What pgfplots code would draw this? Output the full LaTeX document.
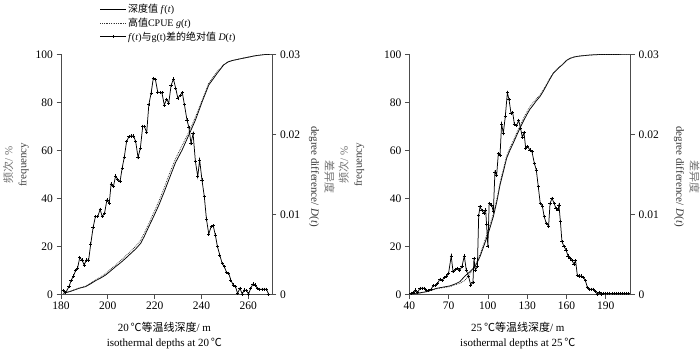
\documentclass[border=0pt]{standalone}
\usepackage{fontspec}
\setmainfont{Liberation Serif}
\newfontfamily\cjk{Noto Sans CJK SC}
\usepackage{pgfplots}
\pgfplotsset{compat=1.18}

\pgfplotsset{
  base/.style={
    scale only axis, height=240pt, ymin=0,
    axis line style={black!70, line width=0.7pt},
    tick style={black!70, line width=0.7pt},
    tick align=outside, major tick length=4.5pt,
    /pgf/number format/assume math mode=true,
    tick label style={font=\fontsize{11.5}{13}\selectfont, black},
  },
  leftax/.style={base, ymax=100, ytick={0,20,...,100},
    axis y line*=left, axis x line*=bottom,
    every axis y label/.style={at={(axis description cs:#1,0.54)}, rotate=90, anchor=south, inner sep=0pt, align=center, font=\fontsize{11}{14}\selectfont},
    every axis x label/.style={at={(axis description cs:0.49,0)}, anchor=north, inner sep=0pt, yshift=-28pt, align=center, font=\fontsize{11}{14.5}\selectfont},
  },
  rightax/.style={base, ymax=0.03, ytick={0,0.01,0.02,0.03},
    axis y line*=right, axis x line=none, scaled y ticks=false,
    yticklabel style={/pgf/number format/fixed, /pgf/number format/precision=2},
    every axis y label/.style={at={(axis description cs:#1,0.49)}, rotate=-90, anchor=south, inner sep=0pt, align=center, font=\fontsize{11}{14}\selectfont},
  },
  fline/.style={black, line width=0.75pt},
  gline/.style={black!80, densely dotted, line width=0.75pt},
  dline/.style={black, line width=0.75pt, mark=+, mark size=1.6pt, mark options={line width=0.6pt}},
}

\begin{document}
\begin{tikzpicture}
\useasboundingbox (0,0) rectangle (700pt,348pt);

% ---------------- left panel ----------------
\begin{axis}[leftax=-0.152, at={(61pt,53.7pt)}, anchor=south west, width=211pt,
  xmin=180, xmax=270.1, xtick={180,200,...,260},
  ylabel={{\cjk\color{black!55}频次}{\color{black!55}/ \%}\\{\color{black!75}frequency}},
  xlabel={20\,{\cjk ℃等温线深度}/ m\\isothermal depths at 20\,{\cjk ℃}},
  legend style={at={(axis description cs:0.17,1.222)}, anchor=north west, draw=none, fill=none,
    font=\fontsize{10}{11}\selectfont, row sep=1.2pt, nodes={inner sep=1.2pt}},
  legend cell align=left,
  legend image code/.code={\draw[mark repeat=2,mark phase=2,#1] plot coordinates {(0pt,0pt) (13pt,0pt) (26pt,0pt)};},
]
\addplot[fline] coordinates {
(181,0.4) (184,1.2) (187.7,2.5) (190.5,3.2) (192.5,4.3) (194.8,5.7) (197,6.8) (199,8) (201,9.6) (203.3,11.5)
(205.5,13.2) (207.6,15) (209.8,17) (211.9,18.9) (214,21.2) (215.5,24) (217.5,28.2) (219.6,32.5) (221.8,37.2)
(224,42.5) (226,47.6) (228.9,54.9) (231.7,60.1) (234.6,66.4) (237.4,72.6) (240.3,80.3) (243.1,87.2)
(246.7,92.1) (249.5,95.6) (251.3,96.8) (253.1,97.4) (257.4,98.3) (263,99.4) (267,99.9) (270,100)};
\addlegendentry{{\cjk 深度值} \textit{f}(\textit{t})}
\addplot[gline] coordinates {
(181,0.4) (184,1.3) (187.7,2.6) (190.5,3.4) (192.5,4.6) (194.8,6.0) (197,7.3) (199,8.6) (201,10.3) (203.3,12.2)
(205.5,14.1) (207.6,16) (209.8,18) (211.9,20) (214,22.5) (215.5,25.4) (217.5,29.5) (219.6,34) (221.8,38.8)
(224,44.2) (226,49.5) (228.9,56.5) (231.7,62) (234.6,67.6) (237.4,73.8) (240.3,81) (243.1,88)
(246.7,92.8) (249.5,95.7) (251.3,96.9) (253.1,97.4) (257.4,98.3) (263,99.4) (267,99.9) (270,100)};
\addlegendentry{{\cjk 高值}CPUE \textit{g}(\textit{t})}
\addlegendimage{dline}
\addlegendentry{\textit{f}(\textit{t}){\cjk 与}g(t){\cjk 差的绝对值} \textit{D}(\textit{t})}
\end{axis}

\begin{axis}[rightax=1.175, at={(61pt,53.7pt)}, anchor=south west, width=211pt,
  xmin=180, xmax=270.1,
  ylabel={{\cjk\color{black!55}差异度}\\{\color{black!80}degree difference/ \textit{D}(\textit{t})}},
]
\addplot[dline] coordinates {
(181,0.00045) (182,0.00021) (183.4,0.00096) (184.3,0.00171) (185.3,0.00228) (186.3,0.00300) (187.1,0.00330)
(188,0.00459) (189,0.00429) (189.9,0.00366) (190.8,0.00429) (191.8,0.00429) (192.7,0.00630) (193.7,0.00834)
(194.7,0.00972) (195.7,0.00972) (196.7,0.01062) (197.6,0.00972) (198.6,0.01014) (199.6,0.01179) (200.6,0.01137)
(201.4,0.01380) (202.4,0.01347) (203.3,0.01479) (204.2,0.01437) (205.2,0.01407) (206.1,0.01575) (207,0.01710)
(208,0.01908) (209,0.01971) (210,0.01980) (211,0.01980) (211.9,0.01908) (212.9,0.01710) (213.9,0.01830)
(214.9,0.02100) (215.6,0.02097) (216.6,0.02022) (217.5,0.02370) (218.5,0.02517) (219.4,0.02700) (220.3,0.02688)
(221.3,0.02529) (222.3,0.02520) (223.1,0.02520) (224.1,0.02367) (225.1,0.02439) (226,0.02388) (227,0.02610)
(228,0.02691) (229,0.02574) (229.9,0.02451) (230.9,0.02490) (231.8,0.02520) (232.7,0.02370) (233.8,0.02178)
(234.6,0.02088) (235.5,0.01887) (236.4,0.02010) (237.4,0.01659) (238.4,0.01470) (239.2,0.01680) (240.2,0.01428)
(241.2,0.01221) (242.1,0.00942) (243.1,0.00753) (244.1,0.00846) (245,0.00858) (245.9,0.00741) (246.8,0.00597)
(247.8,0.00492) (248.8,0.00387) (249.7,0.00345) (250.7,0.00276) (251.6,0.00264) (252.5,0.00180) (253.5,0.00117)
(254.5,0.00096) (255.4,0.00012) (256.4,0.00075) (257.4,0.00003) (258.2,0.00054) (259.2,0.00045) (260.1,0.00003)
(261,0.00075) (262,0.00129) (263,0.00117) (263.8,0.00075) (264.8,0.00063) (265.8,0.00063) (266.7,0.00063)
(267.7,0.00063) (268.7,0)};
\end{axis}

% ---------------- right panel ----------------
\begin{axis}[leftax=-0.203, at={(409.3pt,53.7pt)}, anchor=south west, width=221.4pt,
  xmin=40, xmax=209.1, xtick={40,70,...,190},
  ylabel={{\cjk\color{black!55}频次}{\color{black!55}/ \%}\\{\color{black!75}frequency}},
  xlabel={25\,{\cjk ℃等温线深度}/ m\\isothermal depths at 25\,{\cjk ℃}},
]
\addplot[fline] coordinates {
(40.5,0.1) (47,0.5) (53,1.1) (60.9,2.5) (66,3) (71,3.5) (75,4.3) (78.7,5.3) (82.5,7.6) (86.3,9.4) (90.2,11.5)
(94,15.7) (96.5,19.5) (99,23.3) (101.5,27.5) (104.2,32.4) (107,39) (109.3,45.6) (112,51.5) (114.4,56.8)
(117,60.2) (119.4,63) (122,66.2) (124.5,69.2) (127,72) (129.6,74.7) (132,77) (134.7,78.9) (137,80.6)
(139.8,82.4) (142.5,84.8) (144.9,87.2) (147.5,89.8) (150,92.1) (154,94.3) (157.6,96) (160,97.4) (162.7,98.3)
(166,98.9) (170.4,99.3) (178,99.7) (185,99.9) (209,100)};
\addplot[gline] coordinates {
(40.5,0.1) (47,0.4) (53,1.0) (60.9,2.3) (66,2.8) (71,3.2) (75,4.0) (78.7,4.6) (82.5,5.8) (86.3,8.5) (90.2,11.8)
(94,16.5) (96.5,20.5) (99,24.5) (101.5,28.8) (104.2,33.5) (107,40) (109.3,46.5) (112,52.5) (114.4,57.8)
(117,61.2) (119.4,64) (122,67.2) (124.5,70.2) (127,73) (129.6,75.8) (132,78) (134.7,80) (137,81.4)
(139.8,83) (142.5,85.3) (144.9,87.6) (147.5,90.1) (150,92.3) (154,94.5) (157.6,96.1) (160,97.4) (162.7,98.3)
(166,98.9) (170.4,99.3) (178,99.7) (185,99.9) (209,100)};
\end{axis}

\begin{axis}[rightax=1.195, at={(409.3pt,53.7pt)}, anchor=south west, width=221.4pt,
  xmin=40, xmax=209.1,
  ylabel={{\cjk\color{black!55}差异度}\\{\color{black!80}degree difference/ \textit{D}(\textit{t})}},
]
\addplot[dline] coordinates {
(41.3,0.00012) (43,0.00024) (44.6,0.00054) (46.4,0.00024) (48.1,0.00075) (49.7,0.00075) (51.5,0.00075)
(53.2,0.00045) (54.8,0.00045) (56.6,0.00063) (58.3,0.00108) (59.9,0.00108) (61.6,0.00138) (63.4,0.00189)
(65,0.00171) (66.7,0.00213) (68.5,0.00228) (70,0.00264) (72,0.00480) (73.4,0.00282) (75.1,0.00312)
(76.9,0.00324) (78.5,0.00303) (80.2,0.00345) (82,0.00480) (83.5,0.00303) (85.3,0.00222) (86.9,0.00117)
(88.6,0.00147) (89.4,0.00450) (90.4,0.00303) (92,0.00345) (93,0.00984) (94,0.01095) (95.5,0.01047)
(97,0.01014) (98.3,0.01056) (99,0.00876) (100,0.00597) (101,0.01137) (102.9,0.01116) (104.2,0.01032)
(105.4,0.01530) (106.7,0.01488) (108,0.01758) (109.3,0.01740) (110.5,0.02130) (111.8,0.02013) (113.3,0.02220)
(114.9,0.02520) (116.1,0.02439) (117.7,0.02262) (119,0.02271) (120.2,0.02130) (122,0.02112) (123.5,0.02175)
(125,0.02076) (126.3,0.01962) (127.6,0.02022) (128.9,0.01824) (130.4,0.01845) (132.2,0.01803) (133.7,0.01782)
(135.5,0.01638) (137,0.01554) (138.5,0.01347) (140,0.01137) (141.6,0.01104) (143,0.00972) (144.6,0.00888)
(146.4,0.00855) (147.5,0.01137) (149,0.01200) (150.6,0.01137) (152,0.01074) (153.6,0.01056) (154.3,0.01116)
(155.4,0.00909) (156.6,0.00657) (158.2,0.00597) (159.7,0.00555) (161.2,0.00480) (162.7,0.00450) (164.3,0.00420)
(165.8,0.00378) (167,0.00420) (168.3,0.00240) (169.9,0.00228) (171.4,0.00228) (172.9,0.00213) (174.5,0.00171)
(176,0.00087) (177.5,0.00063) (179,0.00063) (180.6,0.00063) (182,0.00033) (183.6,0.00003) (185.2,0.00024)
(186.7,0.00003) (188.3,0.00009) (189.9,0.00009) (191.5,0.00009) (193.1,0.00009) (194.7,0.00009) (196.3,0.00009)
(197.9,0.00009) (199.5,0.00009) (201.1,0.00009) (202.7,0.00009) (204.3,0.00009) (205.9,0.00009) (207.5,0.00009)};
\end{axis}
\end{tikzpicture}
\end{document}
